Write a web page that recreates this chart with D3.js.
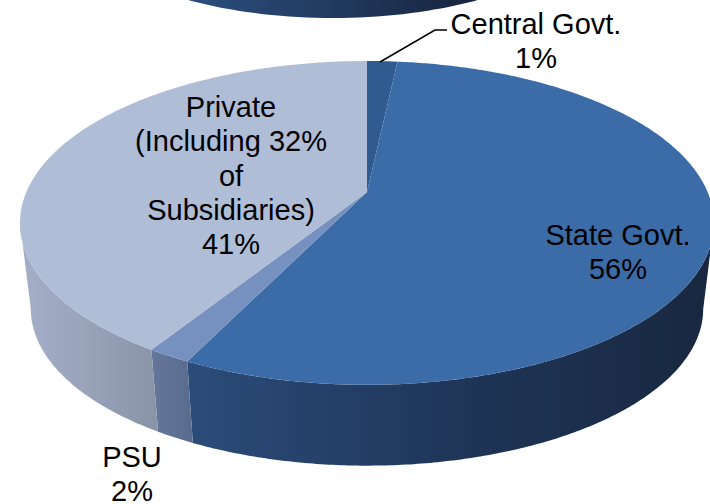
<!DOCTYPE html>
<html>
<head>
<meta charset="utf-8">
<style>
	html, body { margin: 0; padding: 0; background: #fff; }
	svg { display: block; }
	text { font-family: "Liberation Sans", Arial, sans-serif; font-size: 29px; fill: #000; text-anchor: middle; }
</style>
<script src="https://cdn.jsdelivr.net/npm/d3@7"></script>
</head>
<body>
<div id="chart"></div>
<script>
const categories = ['Central Govt.', 'State Govt.', 'PSU', 'Private'];
// slice sizes as measured on the disc, the printed labels are rounded differently
const shares = [1.7, 55.5, 1.7, 41.1];
const percentLabels = ['1%', '56%', '2%', '41%'];
const labelLines = [
	['Central Govt.'],
	['State Govt.'],
	['PSU'],
	['Private', '(Including 32%', 'of', 'Subsidiaries)']
];
const topColors = ['#2f5b90', '#3b6ca8', '#7691c0', '#b0bdd7'];
const wallColors = [
	['#2f5b90', '#2f5b90', '#2f5b90'],
	['#2b4c7a', '#1f3659', '#18273f'],
	['#64779b', '#5f7296', '#586b8c'],
	['#a4aec7', '#98a2b9', '#8a94a8']
];

const width = 710, height = 504;
const tilt = 0.191; // perspective, far side of the disc is squeezed
const topRing = { cx: 367, cy: 192, rx: 340.6, ry: 156 };
const lowRing = { cx: 367, cy: 279, rx: 330, ry: 151 };
const wallStart = 101 * Math.PI / 180, wallEnd = 259 * Math.PI / 180;

const svg = d3.select('#chart').append('svg').attr('width', width).attr('height', height);
const defs = svg.append('defs');

const project = function(ring, a) {
	const u = Math.sin(a), v = Math.cos(a), d = 1 + tilt * v;
	return [ring.cx + ring.rx * u / d, ring.cy - ring.ry * v / d];
};
const arcPoints = function(ring, a0, a1) {
	const n = Math.max(2, Math.ceil((a1 - a0) / 0.01));
	return d3.range(n + 1).map(i => project(ring, a0 + (a1 - a0) * i / n));
};
const addGradient = function(id, x1, x2, c) {
	const g = defs.append('linearGradient').attr('id', id)
		.attr('gradientUnits', 'userSpaceOnUse')
		.attr('x1', x1).attr('x2', x2).attr('y1', 0).attr('y2', 0);
	c.forEach((col, i) => {
		g.append('stop').attr('offset', i / (c.length - 1)).attr('stop-color', col);
	});
};

const line = d3.line();
const pie = d3.pie().sort(null)(shares);

// bottom of the neighbouring pie, cut by the top of the picture
addGradient('cutGrad', 188, 478, ['#2c4f7e', '#16243e']);
svg.append('path')
	.attr('d', line(d3.range(0, 361, 2).map(t => {
		const a = t * Math.PI / 180;
		return [333 + 253 * Math.sin(a), -82 + 100 * Math.cos(a)];
	})) + 'Z')
	.attr('fill', 'url(#cutGrad)');

// side walls
pie.forEach((s, i) => {
	const a0 = Math.max(s.startAngle, wallStart), a1 = Math.min(s.endAngle, wallEnd);
	if (a1 <= a0) return;
	const upper = arcPoints(topRing, a0, a1), lower = arcPoints(lowRing, a0, a1).reverse();
	const xs = d3.extent(upper.concat(lower), p => p[0]);
	addGradient('wall' + i, xs[0], xs[1], wallColors[i]);
	svg.append('path')
		.attr('d', line(upper.concat(lower)) + 'Z')
		.attr('fill', 'url(#wall' + i + ')');
});

// top face
pie.forEach((s, i) => {
	const pts = [[topRing.cx, topRing.cy]].concat(arcPoints(topRing, s.startAngle, s.endAngle));
	svg.append('path')
		.attr('d', line(pts) + 'Z')
		.attr('fill', topColors[i]);
});

// leader for the small slice
svg.append('path')
	.attr('d', line([[380, 62], [435, 30], [447, 30]]))
	.attr('fill', 'none')
	.attr('stroke', '#000')
	.attr('stroke-width', 1.6);

// labels
const labelAnchors = [[536, 34], [618, 245], [132, 467], [231, 117]];
const lineHeight = 34.3;
categories.forEach((c, i) => {
	const t = svg.append('text');
	labelLines[i].concat([percentLabels[i]]).forEach((l, j) => {
		t.append('tspan')
			.attr('x', labelAnchors[i][0])
			.attr('y', labelAnchors[i][1] + j * lineHeight)
			.text(l);
	});
});
</script>
</body>
</html>
